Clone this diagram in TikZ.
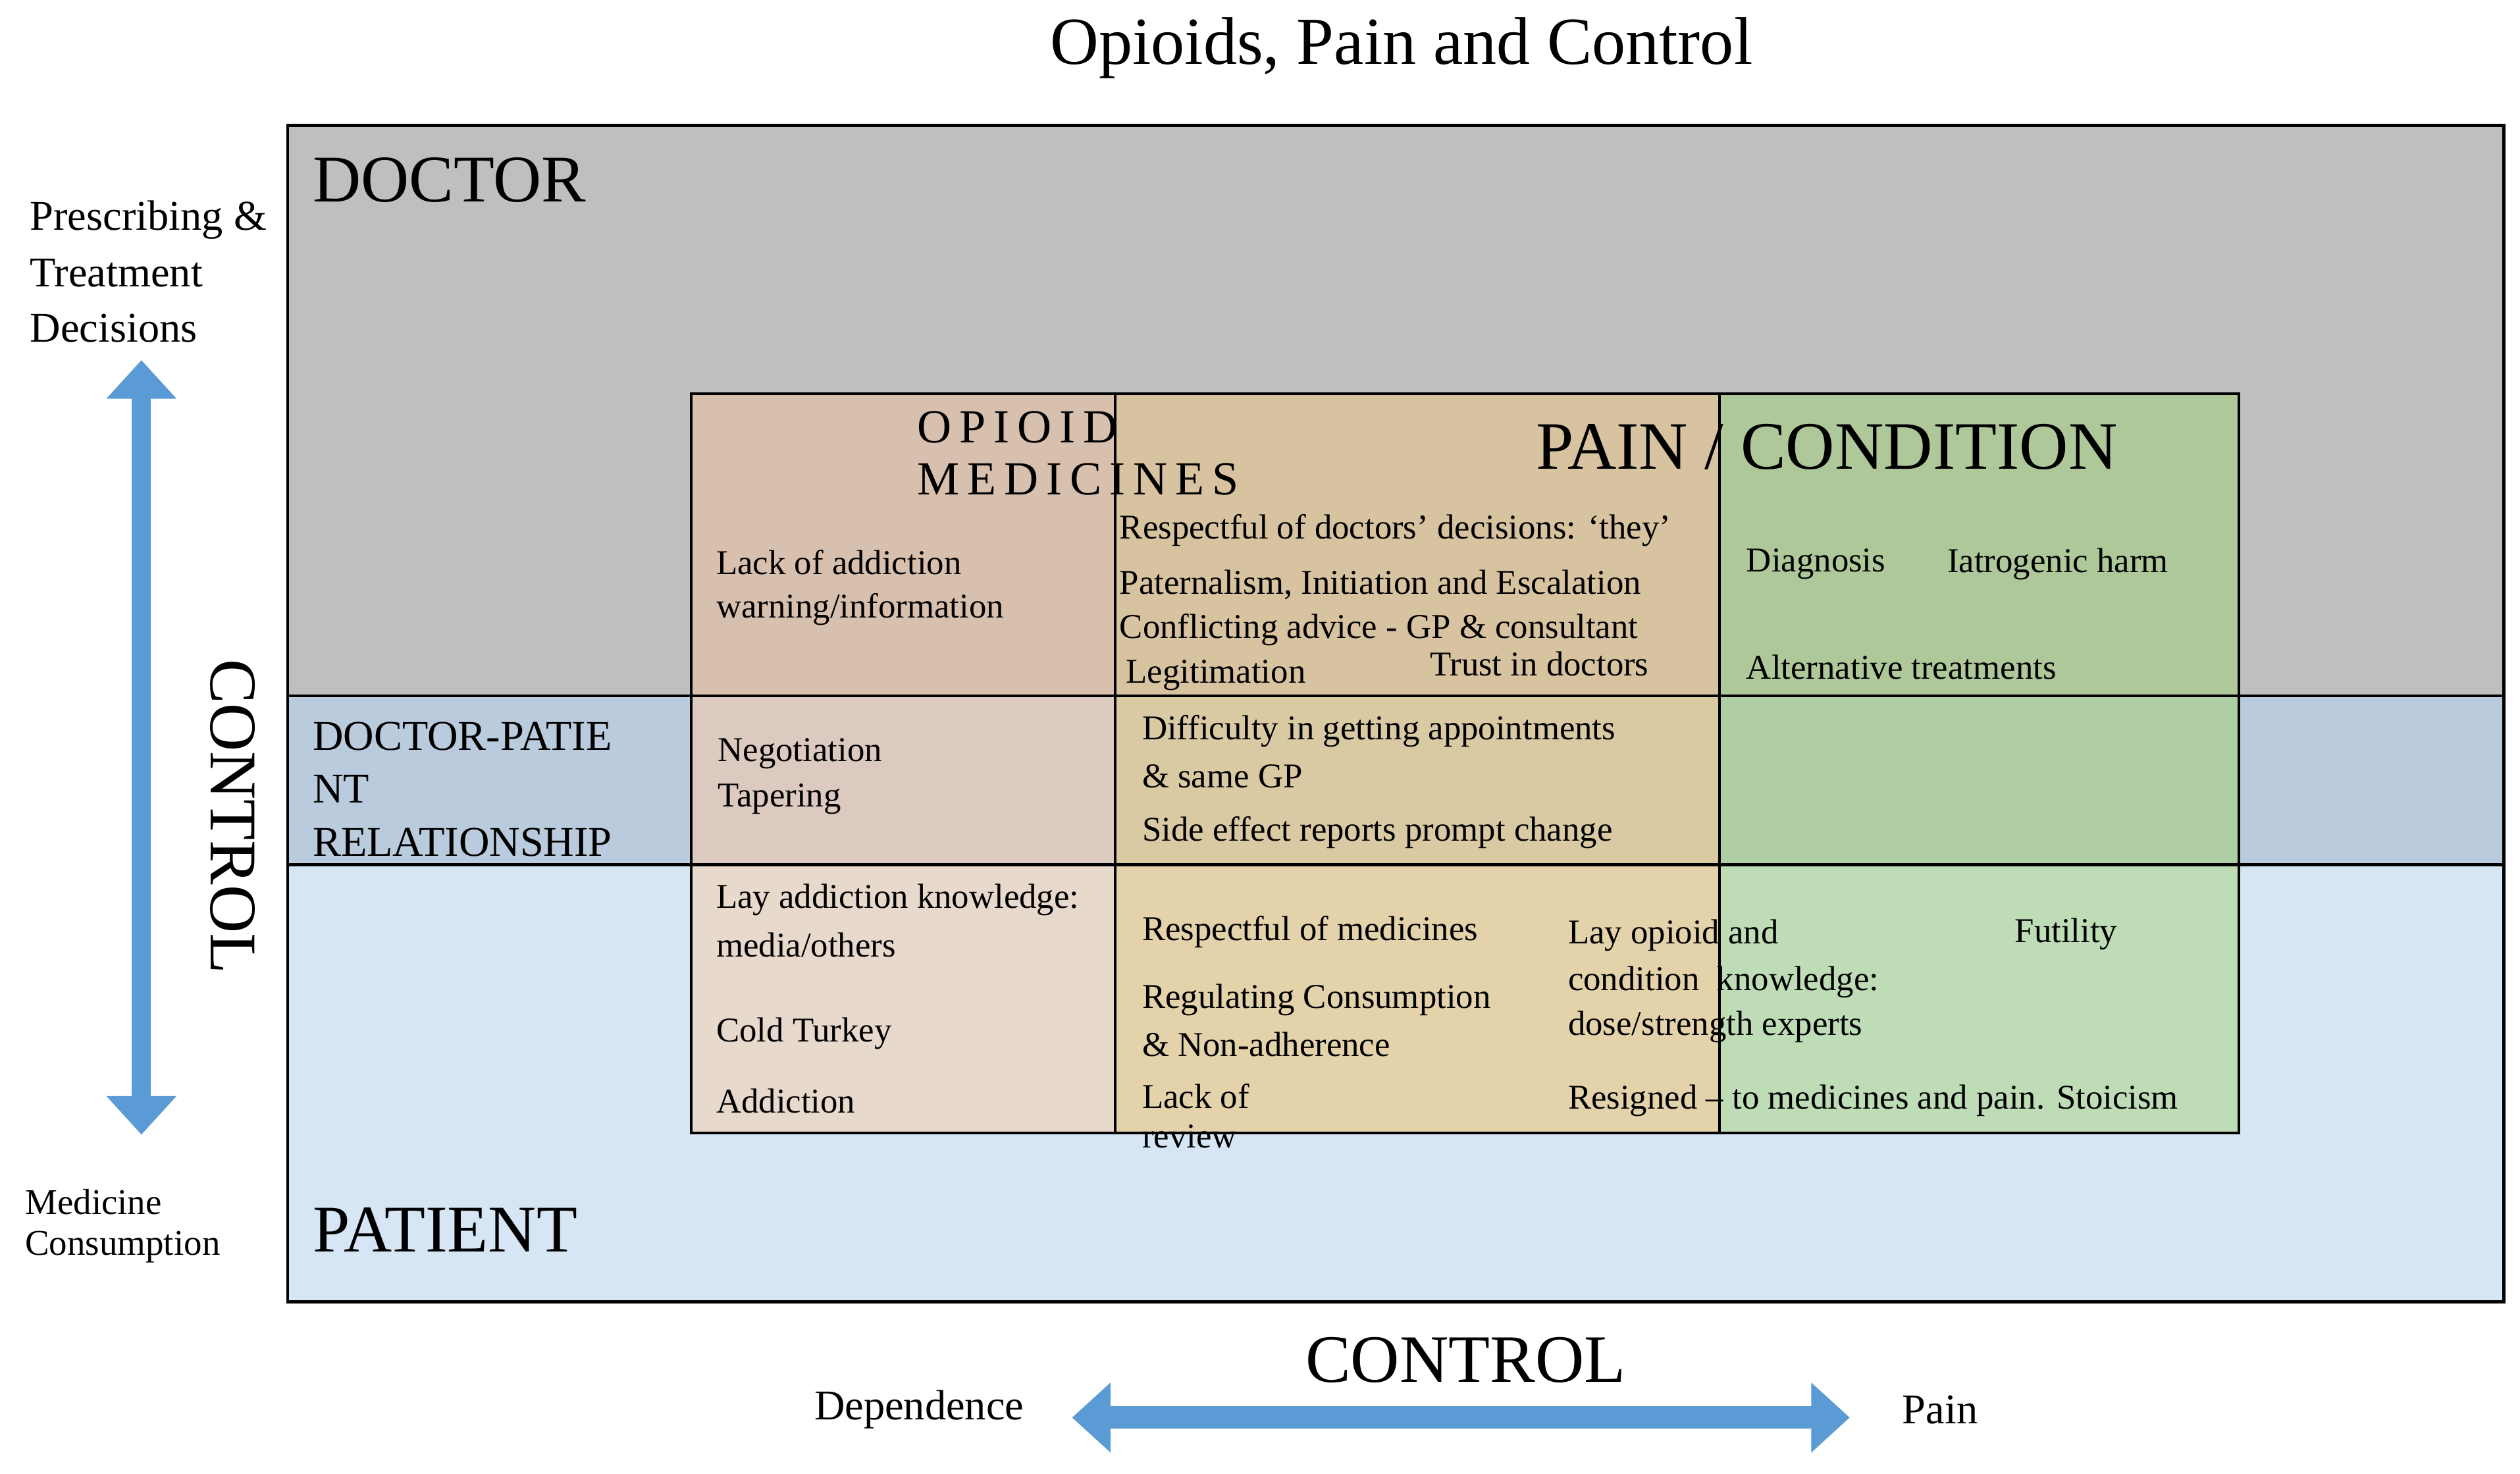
\documentclass[tikz,border=0pt]{standalone}
\usepackage{fontspec}
\setmainfont{Liberation Serif}
\usetikzlibrary{arrows.meta}
\definecolor{gDoc}{HTML}{BFBFBF}
\definecolor{gDP}{HTML}{B9CBDC}
\definecolor{gPat}{HTML}{D6E6F4}
\definecolor{oDoc}{HTML}{D8C0AF}
\definecolor{oDP}{HTML}{DCCAC0}
\definecolor{oPat}{HTML}{E8D9CD}
\definecolor{mDoc}{HTML}{D7C39F}
\definecolor{mDP}{HTML}{DACAA4}
\definecolor{mPat}{HTML}{E3D2AA}
\definecolor{cDoc}{HTML}{AFC89A}
\definecolor{cDP}{HTML}{AFCEA5}
\definecolor{cPat}{HTML}{BEDDB6}
\definecolor{arr}{HTML}{5B9BD5}
\begin{document}
\begin{tikzpicture}[x=0.01cm,y=-0.01cm,
  t/.style={anchor=west,inner sep=0pt,font=\fontsize{6.15}{7}\selectfont},
  s/.style={anchor=west,inner sep=0pt,font=\fontsize{7.5}{8.5}\selectfont},
  big/.style={anchor=west,inner sep=0pt,font=\fontsize{11.8}{13}\selectfont},
  cell/.style={draw=black,line width=0.5pt}]
\useasboundingbox (0,0) rectangle (1568,917);
\node[inner sep=0pt,font=\fontsize{11.9}{13}\selectfont] (title) at (872,30) {Opioids, Pain and Control};
% bands
\fill[gDoc] (179,78) rectangle (1558,433);
\fill[gDP] (179,433) rectangle (1558,538);
\fill[gPat] (179,538) rectangle (1558,810);
% cells
\fill[oDoc] (430,245) rectangle (694,433);
\fill[oDP] (430,433) rectangle (694,538);
\fill[oPat] (430,538) rectangle (694,705);
\fill[mDoc] (694,245) rectangle (1070,433);
\fill[mDP] (694,433) rectangle (1070,538);
\fill[mPat] (694,538) rectangle (1070,705);
\fill[cDoc] (1070,245) rectangle (1393,433);
\fill[cDP] (1070,433) rectangle (1393,538);
\fill[cPat] (1070,538) rectangle (1393,705);
\draw[cell] (430,245) rectangle (1393,705);
\draw[cell] (694,245) -- (694,705) (1070,245) -- (1070,705);
\draw[cell] (179,78) rectangle (1558,810);
\draw[cell] (179,433) -- (1558,433) (179,538) -- (1558,538);
% labels
\node[big] (doc) at (194,112) {DOCTOR};
\node[big] (pat) at (194,765) {PATIENT};
\node[s] at (18,137) {Prescribing \&};
\node[s] at (18,170) {Treatment};
\node[s] at (18,204) {Decisions};
\node[t,font=\fontsize{6.4}{7.5}\selectfont] at (15,748) {Medicine};
\node[t,font=\fontsize{6.4}{7.5}\selectfont] at (15,776) {Consumption};
\node[s] at (194,458) {DOCTOR-PATIE};
\node[s] at (194,491) {NT};
\node[s] at (194,524) {RELATIONSHIP};
\node[anchor=west,inner sep=0pt,font=\fontsize{8.4}{9}\selectfont] at (570,266) {O\,P\,I\,O\,I\,D};
\node[anchor=west,inner sep=0pt,font=\fontsize{8.4}{9}\selectfont] at (570,298) {M\,E\,D\,I\,C\,I\,N\,E\,S};
\node[big,font=\fontsize{12}{13}\selectfont] at (955,278) {PAIN / CONDITION};
\node[t] at (696,330) {Respectful of doctors’ decisions: ‘they’};
\node[t] at (445,350) {Lack of addiction};
\node[t] at (445,379) {warning/information};
\node[t] at (696,364) {Paternalism, Initiation and Escalation};
\node[t] at (696,392) {Conflicting advice - GP \& consultant};
\node[t] at (700,420) {Legitimation};
\node[t] at (889,413) {Trust in doctors};
\node[t] at (1086,351) {Diagnosis};
\node[t] at (1211,351) {Iatrogenic harm};
\node[t] at (1086,415) {Alternative treatments};
\node[t] at (446,469) {Negotiation};
\node[t] at (446,497) {Tapering};
\node[t] at (710,455) {Difficulty in getting appointments};
\node[t] at (710,483) {\& same GP};
\node[t] at (710,518) {Side effect reports prompt change};
\node[t] at (445,560) {Lay addiction knowledge:};
\node[t] at (445,588) {media/others};
\node[t] at (445,643) {Cold Turkey};
\node[t] at (445,685) {Addiction};
\node[t] at (710,580) {Respectful of medicines};
\node[t] at (710,622) {Regulating Consumption};
\node[t] at (710,650) {\& Non-adherence};
\node[t] at (710,682) {Lack of};
\node[t] at (710,707) {review};
\node[t] at (975,582) {Lay opioid and};
\node[t] at (975,611) {condition\ \ knowledge:};
\node[t] at (975,639) {dose/strength experts};
\node[t] at (975,685) {Resigned – to medicines and pain. Stoicism};
\node[t] at (1253,581) {Futility};
% arrows
\coordinate (vt) at (88,224);
\coordinate (vb) at (88,706);
\draw[arr,line width=0.12cm,{Triangle[width=0.42cm,length=0.24cm]}-{Triangle[width=0.42cm,length=0.24cm]}] (vt) -- (vb);
\node[rotate=-90,inner sep=0pt,font=\fontsize{11.8}{13}\selectfont] (vc) at (145,508) {CONTROL};
\coordinate (hl) at (667,882);
\coordinate (hr) at (1151,882);
\draw[arr,line width=0.14cm,{Triangle[width=0.42cm,length=0.24cm]}-{Triangle[width=0.42cm,length=0.24cm]}] (hl) -- (hr);
\node[inner sep=0pt,font=\fontsize{12}{13}\selectfont] (hc) at (912,846) {CONTROL};
\node[s] (dep) at (506,877) {Dependence};
\node[s] (pain) at (1183,877) {Pain};
\end{tikzpicture}
\end{document}
